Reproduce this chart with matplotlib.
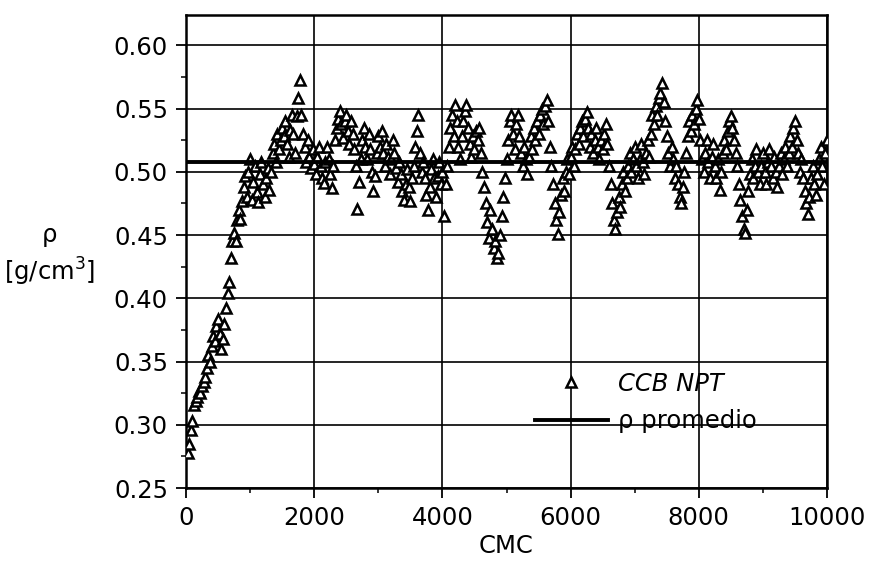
import numpy as np
import matplotlib
matplotlib.use("Agg")
import matplotlib.pyplot as plt
from matplotlib.lines import Line2D
from matplotlib.ticker import MultipleLocator

# ---- data ----
cmc_step = 25
rho = [
    # 25 .. 500
    0.278, 0.285, 0.296, 0.303, 0.316, 0.319, 0.322, 0.327, 0.325, 0.331,
    0.334, 0.338, 0.345, 0.355, 0.350, 0.362, 0.370, 0.366, 0.378, 0.384,
    # 525 .. 1000
    0.372, 0.360, 0.368, 0.380, 0.392, 0.404, 0.413, 0.432, 0.445, 0.452,
    0.445, 0.462, 0.470, 0.463, 0.477, 0.488, 0.497, 0.480, 0.500, 0.510,
    # 1025 .. 1500
    0.478, 0.492, 0.505, 0.484, 0.476, 0.498, 0.508, 0.490, 0.480, 0.495,
    0.503, 0.486, 0.500, 0.515, 0.522, 0.508, 0.530, 0.518, 0.525, 0.535,
    # 1525 .. 2000
    0.528, 0.540, 0.522, 0.512, 0.533, 0.545, 0.530, 0.515, 0.544, 0.558,
    0.573, 0.545, 0.530, 0.520, 0.508, 0.525, 0.512, 0.503, 0.518, 0.506,
    # 2025 .. 2500
    0.498, 0.512, 0.520, 0.505, 0.495, 0.491, 0.508, 0.520, 0.510, 0.498,
    0.487, 0.505, 0.525, 0.535, 0.542, 0.548, 0.538, 0.527, 0.540, 0.545,
    # 2525 .. 3000
    0.532, 0.522, 0.540, 0.530, 0.518, 0.505, 0.471, 0.492, 0.510, 0.525,
    0.535, 0.520, 0.510, 0.530, 0.518, 0.500, 0.485, 0.497, 0.515, 0.528,
    # 3025 .. 3500
    0.520, 0.532, 0.515, 0.505, 0.522, 0.512, 0.498, 0.510, 0.525, 0.515,
    0.503, 0.492, 0.508, 0.498, 0.485, 0.478, 0.490, 0.502, 0.488, 0.477,
    # 3525 .. 4000
    0.495, 0.505, 0.520, 0.532, 0.545, 0.515, 0.500, 0.508, 0.495, 0.482,
    0.470, 0.488, 0.502, 0.510, 0.495, 0.480, 0.497, 0.508, 0.490, 0.500,
    # 4025 .. 4500
    0.465, 0.490, 0.505, 0.520, 0.535, 0.545, 0.528, 0.553, 0.540, 0.520,
    0.510, 0.528, 0.540, 0.548, 0.553, 0.535, 0.522, 0.512, 0.528, 0.518,
    # 4525 .. 5000
    0.532, 0.525, 0.535, 0.515, 0.500, 0.488, 0.475, 0.460, 0.448, 0.470,
    0.455, 0.440, 0.445, 0.432, 0.436, 0.450, 0.465, 0.480, 0.495, 0.510,
    # 5025 .. 5500
    0.525, 0.540, 0.545, 0.530, 0.518, 0.538, 0.545, 0.528, 0.515, 0.505,
    0.520, 0.510, 0.498, 0.512, 0.528, 0.518, 0.535, 0.525, 0.540, 0.530,
    # 5525 .. 6000
    0.545, 0.550, 0.538, 0.552, 0.557, 0.540, 0.520, 0.505, 0.490, 0.475,
    0.462, 0.451, 0.468, 0.482, 0.495, 0.485, 0.500, 0.510, 0.498, 0.512,
    # 6025 .. 6500
    0.520, 0.505, 0.518, 0.530, 0.522, 0.535, 0.540, 0.528, 0.542, 0.547,
    0.535, 0.520, 0.530, 0.515, 0.525, 0.535, 0.520, 0.510, 0.525, 0.518,
    # 6525 .. 7000
    0.530, 0.538, 0.522, 0.505, 0.490, 0.475, 0.462, 0.455, 0.468, 0.480,
    0.472, 0.490, 0.500, 0.485, 0.495, 0.505, 0.515, 0.500, 0.510, 0.520,
    # 7025 .. 7500
    0.505, 0.495, 0.510, 0.522, 0.508, 0.498, 0.515, 0.525, 0.512, 0.530,
    0.545, 0.538, 0.552, 0.545, 0.558, 0.562, 0.570, 0.555, 0.540, 0.528,
    # 7525 .. 8000
    0.515, 0.505, 0.520, 0.510, 0.495, 0.505, 0.490, 0.480, 0.475, 0.488,
    0.500, 0.515, 0.528, 0.540, 0.532, 0.545, 0.538, 0.550, 0.557, 0.542,
    # 8025 .. 8500
    0.525, 0.510, 0.500, 0.515, 0.525, 0.508, 0.495, 0.512, 0.522, 0.505,
    0.495, 0.510, 0.486, 0.500, 0.515, 0.525, 0.518, 0.532, 0.540, 0.544,
    # 8525 .. 9000
    0.535, 0.525, 0.515, 0.505, 0.490, 0.478, 0.465, 0.455, 0.452, 0.470,
    0.485, 0.498, 0.510, 0.495, 0.505, 0.518, 0.500, 0.490, 0.505, 0.515,
    # 9025 .. 9500
    0.500, 0.490, 0.508, 0.518, 0.505, 0.495, 0.512, 0.500, 0.488, 0.505,
    0.515, 0.498, 0.510, 0.520, 0.505, 0.515, 0.528, 0.520, 0.535, 0.540,
    # 9525 .. 10000
    0.525, 0.515, 0.500, 0.510, 0.495, 0.485, 0.475, 0.467, 0.480, 0.495,
    0.505, 0.490, 0.482, 0.498, 0.510, 0.520, 0.505, 0.490, 0.515, 0.525,
]
cmc = [cmc_step * (i + 1) for i in range(len(rho))]
rho_mean = 0.508

x_ticks = [0, 2000, 4000, 6000, 8000, 10000]
y_ticks = [0.25, 0.30, 0.35, 0.40, 0.45, 0.50, 0.55, 0.60]
label_series = "CCB NPT"
label_mean = "ρ promedio"

# ---- figure ----
plt.rcParams['font.family'] = ['DejaVu Sans']
fs = 17.5
fig = plt.figure(figsize=(8.69, 5.68), dpi=100)
ax = fig.add_axes([186/869, 1-488/568, (827-186)/869, (488-15)/568])

mk = dict(linestyle='none', marker='^', markersize=7.6,
          markerfacecolor='white', markeredgecolor='black', markeredgewidth=1.8)
ax.plot(cmc, rho, zorder=3, **mk)
ax.plot([0, 10000], [rho_mean, rho_mean], color='black', lw=2.8, zorder=4)

ax.set_xlim(0, 10000)
ax.set_ylim(0.25, 0.624)
ax.set_xticks(x_ticks)
ax.set_xticklabels([str(v) for v in x_ticks])
ax.set_yticks(y_ticks)
ax.set_yticklabels([f"{v:.2f}" for v in y_ticks])
ax.xaxis.set_minor_locator(MultipleLocator(1000))
ax.yaxis.set_minor_locator(MultipleLocator(0.025))
ax.tick_params(axis='both', which='major', labelsize=fs, length=7, width=1.3,
               direction='out', pad=6, colors='black')
ax.tick_params(axis='both', which='minor', length=3.5, width=1.1, direction='out')
ax.grid(True, which='major', color='black', lw=1.2)
ax.set_axisbelow(True)
for s in ax.spines.values():
    s.set_linewidth(1.8)

ax.set_xlabel("CMC", fontsize=fs, labelpad=3)
fig.text(50/869, 1-235/568, "ρ", fontsize=fs, ha='center', va='center')
fig.text(50/869, 1-272/568, "[g/cm$^3$]", fontsize=fs, ha='center', va='center')

handles = [
    Line2D([], [], **mk),
    Line2D([], [], color='black', lw=2.8),
]
leg = ax.legend(handles, [label_series, label_mean], loc='upper left',
                bbox_to_anchor=((535-186)/641, (488-372)/473),
                frameon=False, fontsize=fs, handlelength=3.0,
                handletextpad=0.4, labelspacing=0.55, borderpad=0,
                borderaxespad=0)
leg.get_texts()[0].set_style('italic')

fig.savefig("out.png", dpi=100)
